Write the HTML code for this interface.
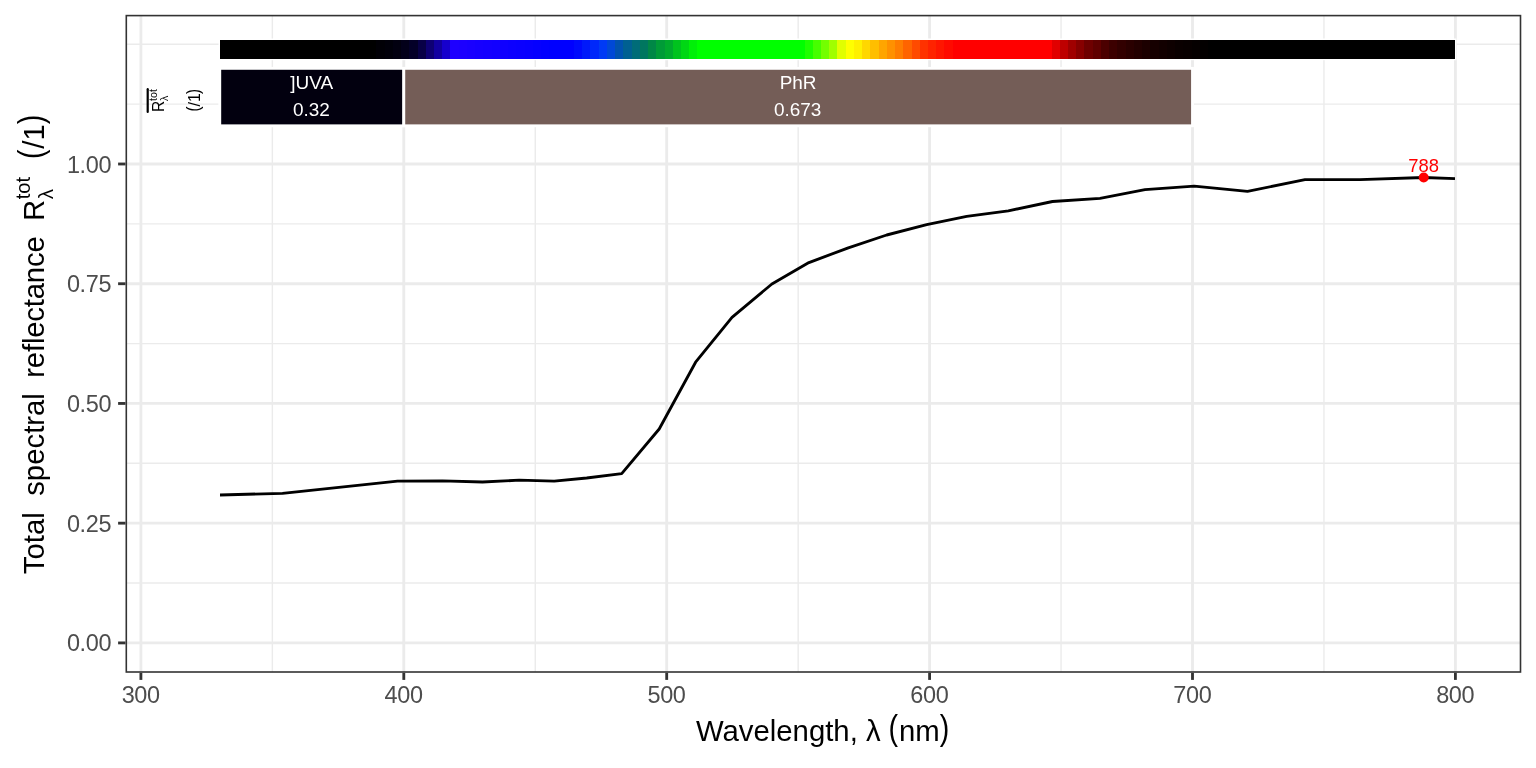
<!DOCTYPE html>
<html lang="en">
<head>
<meta charset="utf-8">
<title>Total spectral reflectance</title>
<style>
html,body{margin:0;padding:0;background:#ffffff;}
body{width:1536px;height:768px;overflow:hidden;}
svg{display:block;}
text{font-family:"Liberation Sans",sans-serif;}
.ax{font-size:23.47px;fill:#4d4d4d;letter-spacing:-0.35px;}
.ttl{font-size:29.33px;fill:#000000;}
.lab{font-size:18.97px;fill:#ffffff;text-anchor:middle;}
</style>
</head>
<body>
<svg width="1536" height="768" viewBox="0 0 1536 768">
<rect x="0" y="0" width="1536" height="768" fill="#ffffff"/>

<g stroke="#ebebeb" stroke-width="1.42" fill="none">
<line x1="126.3" x2="1520.5" y1="583.04" y2="583.04"/>
<line x1="126.3" x2="1520.5" y1="463.31" y2="463.31"/>
<line x1="126.3" x2="1520.5" y1="343.59" y2="343.59"/>
<line x1="126.3" x2="1520.5" y1="223.86" y2="223.86"/>
<line x1="126.3" x2="1520.5" y1="104.14" y2="104.14"/>
<line x1="126.3" x2="1520.5" y1="44.27" y2="44.27"/>
<line x1="272.35" x2="272.35" y1="15.6" y2="672.0"/>
<line x1="535.25" x2="535.25" y1="15.6" y2="672.0"/>
<line x1="798.15" x2="798.15" y1="15.6" y2="672.0"/>
<line x1="1061.05" x2="1061.05" y1="15.6" y2="672.0"/>
<line x1="1323.95" x2="1323.95" y1="15.6" y2="672.0"/>
</g>
<g stroke="#ebebeb" stroke-width="2.84" fill="none">
<line x1="126.3" x2="1520.5" y1="642.90" y2="642.90"/>
<line x1="126.3" x2="1520.5" y1="523.17" y2="523.17"/>
<line x1="126.3" x2="1520.5" y1="403.45" y2="403.45"/>
<line x1="126.3" x2="1520.5" y1="283.73" y2="283.73"/>
<line x1="126.3" x2="1520.5" y1="164.00" y2="164.00"/>
<line x1="140.90" x2="140.90" y1="15.6" y2="672.0"/>
<line x1="403.80" x2="403.80" y1="15.6" y2="672.0"/>
<line x1="666.70" x2="666.70" y1="15.6" y2="672.0"/>
<line x1="929.60" x2="929.60" y1="15.6" y2="672.0"/>
<line x1="1192.50" x2="1192.50" y1="15.6" y2="672.0"/>
<line x1="1455.40" x2="1455.40" y1="15.6" y2="672.0"/>
</g>
<polyline points="220.0,495.0 282.5,493.3 397.5,481.2 442.5,480.9 482.5,482.0 519.2,480.2 554.2,481.2 586.7,478.0 621.7,473.7 659.2,429.0 695.6,362.2 732.0,317.3 771.9,284.0 808.9,262.6 848.3,247.8 886.7,235.0 926.7,224.7 966.7,216.3 1008.3,210.8 1052.5,201.5 1100.0,198.3 1145.0,189.7 1194.2,186.2 1247.5,191.3 1305.0,179.7 1360.0,179.7 1423.7,177.5 1455.0,178.7" fill="none" stroke="#000000" stroke-width="2.84" stroke-linejoin="round" stroke-linecap="butt"/>
<circle cx="1423.7" cy="177.5" r="5" fill="#ff0000"/>
<text x="1423.7" y="171.6" font-size="18.4" fill="#ff0000" text-anchor="middle">788</text>
<rect x="218.50" y="38.50" width="1237.90" height="21.70" fill="#ffffff"/>
<g shape-rendering="crispEdges">
<rect x="219.90" y="39.90" width="156.75" height="18.90" fill="#000000"/>
<rect x="376.35" y="39.90" width="8.53" height="18.90" fill="#010006"/>
<rect x="384.58" y="39.90" width="8.53" height="18.90" fill="#01000a"/>
<rect x="392.81" y="39.90" width="8.53" height="18.90" fill="#020010"/>
<rect x="401.05" y="39.90" width="8.53" height="18.90" fill="#03001a"/>
<rect x="409.28" y="39.90" width="8.53" height="18.90" fill="#040028"/>
<rect x="417.52" y="39.90" width="8.53" height="18.90" fill="#080046"/>
<rect x="425.75" y="39.90" width="8.53" height="18.90" fill="#0e0073"/>
<rect x="433.98" y="39.90" width="8.53" height="18.90" fill="#1200a0"/>
<rect x="442.22" y="39.90" width="8.53" height="18.90" fill="#1600cd"/>
<rect x="450.45" y="39.90" width="8.53" height="18.90" fill="#1e00ff"/>
<rect x="458.69" y="39.90" width="8.53" height="18.90" fill="#1c00ff"/>
<rect x="466.92" y="39.90" width="8.53" height="18.90" fill="#1900ff"/>
<rect x="475.15" y="39.90" width="8.53" height="18.90" fill="#1600ff"/>
<rect x="483.39" y="39.90" width="8.53" height="18.90" fill="#1400ff"/>
<rect x="491.62" y="39.90" width="8.53" height="18.90" fill="#1200ff"/>
<rect x="499.86" y="39.90" width="8.53" height="18.90" fill="#0f00ff"/>
<rect x="508.09" y="39.90" width="8.53" height="18.90" fill="#0c00ff"/>
<rect x="516.32" y="39.90" width="8.53" height="18.90" fill="#0a00ff"/>
<rect x="524.56" y="39.90" width="8.53" height="18.90" fill="#0800ff"/>
<rect x="532.79" y="39.90" width="8.53" height="18.90" fill="#0500ff"/>
<rect x="541.03" y="39.90" width="8.53" height="18.90" fill="#0200ff"/>
<rect x="549.26" y="39.90" width="25.00" height="18.90" fill="#0000ff"/>
<rect x="573.96" y="39.90" width="8.53" height="18.90" fill="#000afc"/>
<rect x="582.20" y="39.90" width="8.53" height="18.90" fill="#0019fa"/>
<rect x="590.43" y="39.90" width="8.53" height="18.90" fill="#0028fa"/>
<rect x="598.66" y="39.90" width="8.53" height="18.90" fill="#003af5"/>
<rect x="606.90" y="39.90" width="8.53" height="18.90" fill="#0048d7"/>
<rect x="615.13" y="39.90" width="8.53" height="18.90" fill="#0052af"/>
<rect x="623.37" y="39.90" width="8.53" height="18.90" fill="#006091"/>
<rect x="631.60" y="39.90" width="8.53" height="18.90" fill="#006c78"/>
<rect x="639.83" y="39.90" width="8.53" height="18.90" fill="#00765f"/>
<rect x="648.07" y="39.90" width="8.53" height="18.90" fill="#008746"/>
<rect x="656.30" y="39.90" width="8.53" height="18.90" fill="#009b37"/>
<rect x="664.54" y="39.90" width="8.53" height="18.90" fill="#00aa2d"/>
<rect x="672.77" y="39.90" width="8.53" height="18.90" fill="#00c31e"/>
<rect x="681.00" y="39.90" width="8.53" height="18.90" fill="#00d714"/>
<rect x="689.24" y="39.90" width="8.53" height="18.90" fill="#00f008"/>
<rect x="697.47" y="39.90" width="107.34" height="18.90" fill="#00ff00"/>
<rect x="804.51" y="39.90" width="8.53" height="18.90" fill="#1eff00"/>
<rect x="812.75" y="39.90" width="8.53" height="18.90" fill="#46ff00"/>
<rect x="820.98" y="39.90" width="8.53" height="18.90" fill="#73ff00"/>
<rect x="829.22" y="39.90" width="8.53" height="18.90" fill="#a0ff00"/>
<rect x="837.45" y="39.90" width="8.53" height="18.90" fill="#e1ff00"/>
<rect x="845.68" y="39.90" width="8.53" height="18.90" fill="#ffff00"/>
<rect x="853.92" y="39.90" width="8.53" height="18.90" fill="#fff000"/>
<rect x="862.15" y="39.90" width="8.53" height="18.90" fill="#ffd700"/>
<rect x="870.39" y="39.90" width="8.53" height="18.90" fill="#ffbe00"/>
<rect x="878.62" y="39.90" width="8.53" height="18.90" fill="#ffa500"/>
<rect x="886.85" y="39.90" width="8.53" height="18.90" fill="#ff9100"/>
<rect x="895.09" y="39.90" width="8.53" height="18.90" fill="#ff7d00"/>
<rect x="903.32" y="39.90" width="8.53" height="18.90" fill="#ff6400"/>
<rect x="911.56" y="39.90" width="8.53" height="18.90" fill="#ff4b00"/>
<rect x="919.79" y="39.90" width="8.53" height="18.90" fill="#ff3200"/>
<rect x="928.02" y="39.90" width="8.53" height="18.90" fill="#ff2300"/>
<rect x="936.26" y="39.90" width="8.53" height="18.90" fill="#ff1600"/>
<rect x="944.49" y="39.90" width="8.53" height="18.90" fill="#ff0a00"/>
<rect x="952.73" y="39.90" width="99.11" height="18.90" fill="#ff0000"/>
<rect x="1051.53" y="39.90" width="8.53" height="18.90" fill="#e10000"/>
<rect x="1059.77" y="39.90" width="8.53" height="18.90" fill="#be0000"/>
<rect x="1068.00" y="39.90" width="8.53" height="18.90" fill="#a00000"/>
<rect x="1076.24" y="39.90" width="8.53" height="18.90" fill="#870000"/>
<rect x="1084.47" y="39.90" width="8.53" height="18.90" fill="#6e0000"/>
<rect x="1092.70" y="39.90" width="8.53" height="18.90" fill="#5f0000"/>
<rect x="1100.94" y="39.90" width="8.53" height="18.90" fill="#4b0000"/>
<rect x="1109.17" y="39.90" width="8.53" height="18.90" fill="#3c0000"/>
<rect x="1117.41" y="39.90" width="8.53" height="18.90" fill="#320000"/>
<rect x="1125.64" y="39.90" width="8.53" height="18.90" fill="#2a0000"/>
<rect x="1133.87" y="39.90" width="8.53" height="18.90" fill="#230000"/>
<rect x="1142.11" y="39.90" width="8.53" height="18.90" fill="#1c0000"/>
<rect x="1150.34" y="39.90" width="8.53" height="18.90" fill="#160000"/>
<rect x="1158.58" y="39.90" width="8.53" height="18.90" fill="#120000"/>
<rect x="1166.81" y="39.90" width="8.53" height="18.90" fill="#0e0000"/>
<rect x="1175.04" y="39.90" width="8.53" height="18.90" fill="#0a0000"/>
<rect x="1183.28" y="39.90" width="8.53" height="18.90" fill="#080000"/>
<rect x="1191.51" y="39.90" width="8.53" height="18.90" fill="#050000"/>
<rect x="1199.75" y="39.90" width="8.53" height="18.90" fill="#030000"/>
<rect x="1207.98" y="39.90" width="247.02" height="18.90" fill="#000000"/>
</g>
<rect x="219.77" y="68.35" width="184.03" height="57.45" fill="#02000f" stroke="#ffffff" stroke-width="2.84"/>
<rect x="403.80" y="68.35" width="788.70" height="57.45" fill="#745d57" stroke="#ffffff" stroke-width="2.84"/>
<text class="lab" x="311.7" y="89.2">]UVA</text>
<text class="lab" x="311.4" y="116.2">0.32</text>
<text class="lab" x="798.1" y="89.2">PhR</text>
<text class="lab" x="797.6" y="116.2">0.673</text>
<g transform="translate(164,111.9) rotate(-90)" fill="#000000">
<text x="-0.1" y="0" font-size="15.6">R</text>
<text x="10.95" y="-7.1" font-size="10.64">tot</text>
<text x="10.8" y="4.1" font-size="10.64">λ</text>
<line x1="-0.1" x2="22.7" y1="-16.3" y2="-16.3" stroke="#000" stroke-width="2.2" stroke-linecap="round"/>
</g>
<g transform="translate(199.9,111.6) rotate(-90)" fill="#000000">
<text transform="translate(0.1,-0.5) scale(0.85,1)" font-size="17.6">(</text>
<text x="5.1" y="0" font-size="16">/1</text>
<text transform="translate(17.7,-0.5) scale(0.85,1)" font-size="17.6">)</text>
</g>
<rect x="126.30" y="15.60" width="1394.20" height="656.40" fill="none" stroke="#333333" stroke-width="1.6"/>
<g stroke="#333333" stroke-width="2.84">
<line x1="118.1" x2="125.5" y1="642.90" y2="642.90"/>
<line x1="118.1" x2="125.5" y1="523.17" y2="523.17"/>
<line x1="118.1" x2="125.5" y1="403.45" y2="403.45"/>
<line x1="118.1" x2="125.5" y1="283.73" y2="283.73"/>
<line x1="118.1" x2="125.5" y1="164.00" y2="164.00"/>
<line x1="140.90" x2="140.90" y1="672.8" y2="679.9"/>
<line x1="403.80" x2="403.80" y1="672.8" y2="679.9"/>
<line x1="666.70" x2="666.70" y1="672.8" y2="679.9"/>
<line x1="929.60" x2="929.60" y1="672.8" y2="679.9"/>
<line x1="1192.50" x2="1192.50" y1="672.8" y2="679.9"/>
<line x1="1455.40" x2="1455.40" y1="672.8" y2="679.9"/>
</g>
<text class="ax" x="111.2" y="651.40" text-anchor="end">0.00</text>
<text class="ax" x="111.2" y="531.67" text-anchor="end">0.25</text>
<text class="ax" x="111.2" y="411.95" text-anchor="end">0.50</text>
<text class="ax" x="111.2" y="292.23" text-anchor="end">0.75</text>
<text class="ax" x="111.2" y="172.50" text-anchor="end">1.00</text>
<text class="ax" x="140.70" y="703.3" text-anchor="middle">300</text>
<text class="ax" x="403.60" y="703.3" text-anchor="middle">400</text>
<text class="ax" x="666.50" y="703.3" text-anchor="middle">500</text>
<text class="ax" x="929.40" y="703.3" text-anchor="middle">600</text>
<text class="ax" x="1192.30" y="703.3" text-anchor="middle">700</text>
<text class="ax" x="1455.20" y="703.3" text-anchor="middle">800</text>
<text class="ttl" x="695.9" y="741.3">Wavelength, λ</text>
<text transform="translate(888.4,739.6) scale(0.82,1)" font-size="35" fill="#000">(</text>
<text class="ttl" x="899.0" y="741.3">nm</text>
<text transform="translate(939.8,739.6) scale(0.82,1)" font-size="35" fill="#000">)</text>
<g transform="translate(43.9,574.2) rotate(-90)">
<text class="ttl" x="0.00" y="0">Total</text>
<text class="ttl" x="78.40" y="0">spectral</text>
<text class="ttl" x="196.50" y="0" textLength="141.4" lengthAdjust="spacing">reflectance</text>
<text class="ttl" x="353.10" y="0">R</text>
<text x="375.00" y="-13.8" font-size="20.0" fill="#000">tot</text>
<text x="375.00" y="9.0" font-size="20.5" fill="#000">λ</text>
<text transform="translate(415.2,-0.95) scale(0.82,1)" font-size="34.9" fill="#000">(</text>
<text class="ttl" x="425.5" y="0">/1</text>
<text transform="translate(450.0,-0.95) scale(0.82,1)" font-size="34.9" fill="#000">)</text>
</g>
</svg>
</body>
</html>
